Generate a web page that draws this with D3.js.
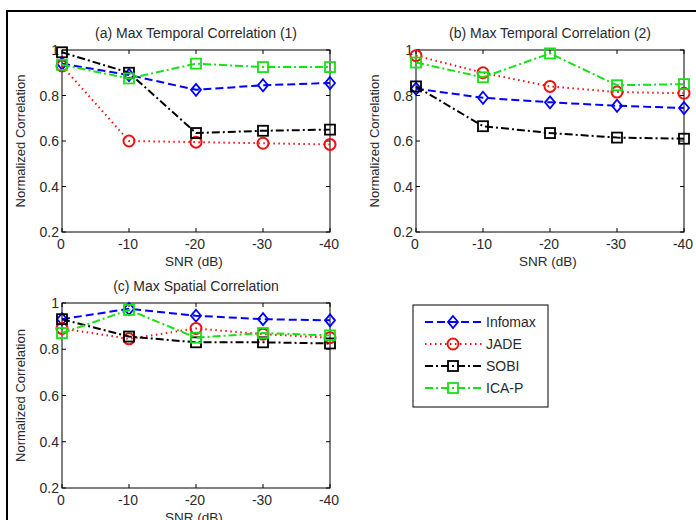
<!DOCTYPE html>
<html>
<head>
<meta charset="utf-8">
<script src="https://cdn.jsdelivr.net/npm/d3@7"></script>
<style>
  body { margin: 0; background: #fff; }
  svg text { font-family: "Liberation Sans", Arial, sans-serif; fill: #2a2a2a; }
</style>
</head>
<body>
<div id="draw_here"></div>
<script type="text/javascript">
    // Data
    snr = [0, -10, -20, -30, -40]
    yTicks = [0.2, 0.4, 0.6, 0.8, 1]
    methods = ["Infomax", "JADE", "SOBI", "ICA-P"]

    // (a) Max Temporal Correlation (1)
    infomaxA = [0.94, 0.89, 0.825, 0.845, 0.855]
    jadeA    = [0.93, 0.60, 0.595, 0.59, 0.585]
    sobiA    = [0.99, 0.90, 0.635, 0.645, 0.65]
    icapA    = [0.935, 0.875, 0.94, 0.925, 0.925]

    // (b) Max Temporal Correlation (2)
    infomaxB = [0.83, 0.79, 0.77, 0.755, 0.745]
    jadeB    = [0.975, 0.90, 0.84, 0.815, 0.81]
    sobiB    = [0.84, 0.665, 0.635, 0.615, 0.61]
    icapB    = [0.945, 0.88, 0.985, 0.845, 0.85]

    // (c) Max Spatial Correlation
    infomaxC = [0.93, 0.975, 0.945, 0.93, 0.925]
    jadeC    = [0.89, 0.845, 0.89, 0.865, 0.85]
    sobiC    = [0.93, 0.855, 0.83, 0.83, 0.825]
    icapC    = [0.87, 0.97, 0.85, 0.87, 0.86]

    // Styles
    blue = "#0000ff"
    red = "#f01010"
    black = "#000000"
    green = "#18e018"

    styles = {
        "Infomax": {color: blue, dash: "8,4", marker: "diamond"},
        "JADE": {color: red, dash: "1.5,3.5", marker: "circle"},
        "SOBI": {color: black, dash: "8,3,2,3", marker: "square"},
        "ICA-P": {color: green, dash: "8,3,2,3", marker: "square"}
    }

    panels = [
        {title: "(a) Max Temporal Correlation (1)", left: 62, right: 330, top: 50, bottom: 232,
         series: [infomaxA, jadeA, sobiA, icapA]},
        {title: "(b) Max Temporal Correlation (2)", left: 416, right: 684, top: 50, bottom: 232,
         series: [infomaxB, jadeB, sobiB, icapB]},
        {title: "(c) Max Spatial Correlation", left: 62, right: 330, top: 303, bottom: 488,
         series: [infomaxC, jadeC, sobiC, icapC]}
    ]

    canvas = ({width: 696, height: 520})

    var svg = d3.select("div#draw_here").append("svg")
        .attr("width", canvas.width)
        .attr("height", canvas.height)
        .attr("viewBox", [0, 0, canvas.width, canvas.height])

    // Outer frame (only top and left visible)
    svg.append("path")
        .attr("fill", "none")
        .attr("stroke", "#000")
        .attr("stroke-width", 2)
        .attr("d", "M7,520 L7,11 L696,11")

    function drawMarker(g, type, cx, cy, color) {
        if (type == "diamond") {
            g.append("path")
                .attr("d", `M${cx},${cy-6} L${cx+5},${cy} L${cx},${cy+6} L${cx-5},${cy} Z`)
                .attr("fill", "none").attr("stroke", color).attr("stroke-width", 1.8)
        } else if (type == "circle") {
            g.append("circle")
                .attr("cx", cx).attr("cy", cy).attr("r", 5.5)
                .attr("fill", "none").attr("stroke", color).attr("stroke-width", 2)
        } else {
            g.append("rect")
                .attr("x", cx - 5).attr("y", cy - 5).attr("width", 10).attr("height", 10)
                .attr("fill", "none").attr("stroke", color).attr("stroke-width", 1.8)
        }
    }

    fmt = d => d == 1 ? "1" : d.toFixed(1)

    panels.forEach(function(p) {
        var x = d3.scaleLinear().domain([0, -40]).range([p.left, p.right])
        var y = d3.scaleLinear().domain([0.2, 1]).range([p.bottom, p.top])
        var g = svg.append("g")

        // Box
        g.append("rect")
            .attr("x", p.left).attr("y", p.top)
            .attr("width", p.right - p.left).attr("height", p.bottom - p.top)
            .attr("fill", "none").attr("stroke", "#000").attr("stroke-width", 1)

        // Ticks (inside, all four sides)
        snr.forEach(function(t) {
            g.append("line").attr("x1", x(t)).attr("x2", x(t)).attr("y1", p.bottom).attr("y2", p.bottom - 4)
                .attr("stroke", "#000")
            g.append("line").attr("x1", x(t)).attr("x2", x(t)).attr("y1", p.top).attr("y2", p.top + 4)
                .attr("stroke", "#000")
            g.append("text").attr("x", x(t) - 1).attr("y", p.bottom + 17)
                .attr("text-anchor", "middle").attr("font-size", 14).text(t)
        })
        yTicks.forEach(function(t) {
            g.append("line").attr("x1", p.left).attr("x2", p.left + 4).attr("y1", y(t)).attr("y2", y(t))
                .attr("stroke", "#000")
            g.append("line").attr("x1", p.right).attr("x2", p.right - 4).attr("y1", y(t)).attr("y2", y(t))
                .attr("stroke", "#000")
            g.append("text").attr("x", p.left - 3).attr("y", y(t)).attr("dy", "0.36em")
                .attr("text-anchor", "end").attr("font-size", 14).text(fmt(t))
        })

        // Labels
        g.append("text").attr("x", (p.left + p.right) / 2).attr("y", p.top - 12)
            .attr("text-anchor", "middle").attr("font-size", 14).text(p.title)
        g.append("text").attr("x", (p.left + p.right) / 2 - 2).attr("y", p.bottom + 34)
            .attr("text-anchor", "middle").attr("font-size", 13.5).text("SNR (dB)")
        g.append("text")
            .attr("transform", `translate(${p.left - 37},${(p.top + p.bottom) / 2}) rotate(-90)`)
            .attr("text-anchor", "middle").attr("font-size", 13).text("Normalized Correlation")

        // Series
        var line = d3.line().x((d, i) => x(snr[i])).y(d => y(d))
        p.series.forEach(function(vals, k) {
            var s = styles[methods[k]]
            g.append("path")
                .attr("fill", "none")
                .attr("stroke", s.color)
                .attr("stroke-width", 2)
                .attr("stroke-dasharray", s.dash)
                .attr("d", line(vals))
            vals.forEach((v, i) => drawMarker(g, s.marker, x(snr[i]), y(v), s.color))
        })
    })

    // Legend
    var lg = svg.append("g")
    lg.append("rect")
        .attr("x", 413).attr("y", 305).attr("width", 135).attr("height", 102)
        .attr("fill", "#fff").attr("stroke", "#000").attr("stroke-width", 1)
    methods.forEach(function(m, k) {
        var s = styles[m]
        var ly = 322 + k * 22
        lg.append("line")
            .attr("x1", 425).attr("x2", 482).attr("y1", ly).attr("y2", ly)
            .attr("stroke", s.color).attr("stroke-width", 2).attr("stroke-dasharray", s.dash)
        drawMarker(lg, s.marker, 453, ly, s.color)
        lg.append("text").attr("x", 486).attr("y", ly).attr("dy", "0.36em")
            .attr("font-size", 14).text(m)
    })
</script>
</body>
</html>
